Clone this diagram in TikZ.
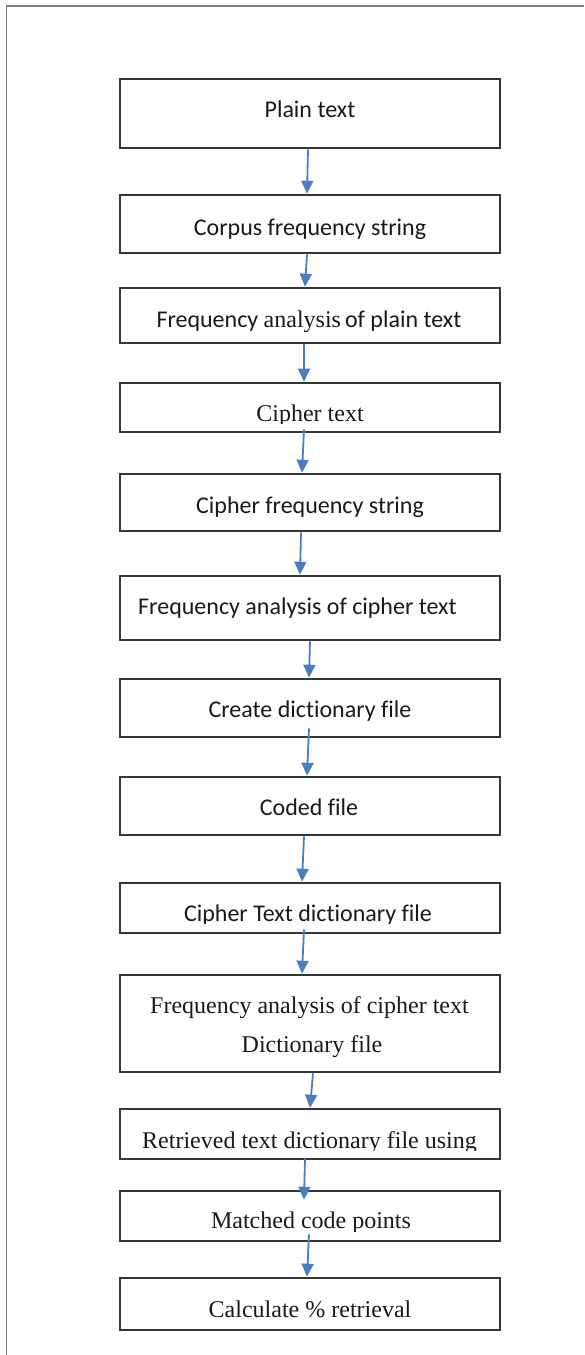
\documentclass[tikz,border=0pt]{standalone}
\usepackage{fontspec}
\setmainfont{Carlito}[Ligatures=NoCommon]
\newfontfamily\serifface{Liberation Serif}
\usetikzlibrary{arrows.meta}
\definecolor{flowblue}{RGB}{74,126,193}
\definecolor{boxline}{RGB}{55,55,55}
\definecolor{framegray}{RGB}{125,125,125}
\tikzset{
  stepbox/.style={draw=boxline, line width=2.6pt, minimum width=380pt, inner sep=0pt},
  flow/.style={draw=flowblue, line width=1.8pt, -{Triangle[length=13pt,width=12pt]}},
  steptext/.style={anchor=base, inner sep=0pt, text=black!90, font=\fontsize{24}{29}\selectfont},
  framing/.style={draw=framegray, line width=1.5pt}
}
\begin{document}
\begin{tikzpicture}[x=1pt, y=-1pt]
\useasboundingbox (0,0) rectangle (584,1355);
% page frame
\draw[framing] (6.5,1355) -- (6.5,6) -- (584,6);

% process boxes
\node[stepbox, minimum height=69pt] (b1)  at (310,113.5)  {};
\node[stepbox, minimum height=58pt] (b2)  at (310,224)    {};
\node[stepbox, minimum height=55pt] (b3)  at (310,315.5)  {};
\node[stepbox, minimum height=49pt] (b4)  at (310,407.5)  {};
\node[stepbox, minimum height=57pt] (b5)  at (310,502.5)  {};
\node[stepbox, minimum height=64pt] (b6)  at (310,608)    {};
\node[stepbox, minimum height=58pt] (b7)  at (310,708)    {};
\node[stepbox, minimum height=58pt] (b8)  at (310,806)    {};
\node[stepbox, minimum height=50pt] (b9)  at (310,908)    {};
\node[stepbox, minimum height=97pt] (b10) at (310,1023.5) {};
\node[stepbox, minimum height=50pt] (b11) at (310,1134)   {};
\node[stepbox, minimum height=50pt] (b12) at (310,1216)   {};
\node[stepbox, minimum height=52pt] (b13) at (310,1304)   {};

% labels
\node[steptext] (t1) at (310,117) {Plain text};
\node[steptext] (t2) at (310,235) {Corpus frequency string};
\node[steptext] (t3) at (309,327) {Frequency {\serifface analysis}\,of plain text};
\begin{scope}
  \clip (120,383) rectangle (500,423);
  \node[steptext] (t4) at (310,421) {\serifface Cipher text};
\end{scope}
\node[steptext] (t5) at (310,513) {Cipher frequency string};
\node[steptext] (t6) at (297.5,614) {Frequency analysis of cipher text};
\node[steptext] (t7) at (310,717) {Create dictionary file};
\node[steptext] (t8) at (309,815) {Coded file};
\begin{scope}
  \clip (120,883) rectangle (500,923);
  \node[steptext] (t9) at (308,921) {Cipher Text dictionary file};
\end{scope}
\node[steptext] (t10a) at (309.5,1013) {\serifface Frequency analysis of cipher text};
\node[steptext] (t10b) at (312,1052)   {\serifface Dictionary file};
\begin{scope}
  \clip (120,1109) rectangle (500,1150);
  \node[steptext] (t11) at (309.5,1148) {\serifface Retrieved text dictionary file using};
\end{scope}
\begin{scope}
  \clip (120,1191) rectangle (500,1231);
  \node[steptext] (t12) at (311,1228) {\serifface Matched code points};
\end{scope}
\node[steptext] (t13) at (310,1317) {\serifface Calculate \% retrieval};

% flow arrows
\draw[flow] ([xshift=-2pt]b1.south) -- ([xshift=-3pt]b2.north);
\draw[flow] ([xshift=-3pt]b2.south) -- ([xshift=-5pt]b3.north);
\draw[flow] ([xshift=-6pt]b3.south) -- ([xshift=-6pt]b4.north);
\draw[flow] ([xshift=-6pt,yshift=4pt]b4.south) -- ([xshift=-8pt]b5.north);
\draw[flow] ([xshift=-9pt]b5.south) -- ([xshift=-10pt]b6.north);
\draw[flow] ([xshift=0pt]b6.south) -- ([xshift=-1pt]b7.north);
\draw[flow] ([xshift=-1pt,yshift=10pt]b7.south) -- ([xshift=-3pt]b8.north);
\draw[flow] ([xshift=-6pt]b8.south) -- ([xshift=-8pt]b9.north);
\draw[flow] ([xshift=-6pt,yshift=5pt]b9.south) -- ([xshift=-8pt]b10.north);
\draw[flow] ([xshift=3pt]b10.south) -- ([xshift=0pt]b11.north);
\draw[flow] ([xshift=-5pt,yshift=2pt]b11.south) -- ([xshift=-6pt,yshift=-10pt]b12.north);
\draw[flow] ([xshift=-1pt,yshift=8pt]b12.south) -- ([xshift=-3pt]b13.north);
\end{tikzpicture}
\end{document}
